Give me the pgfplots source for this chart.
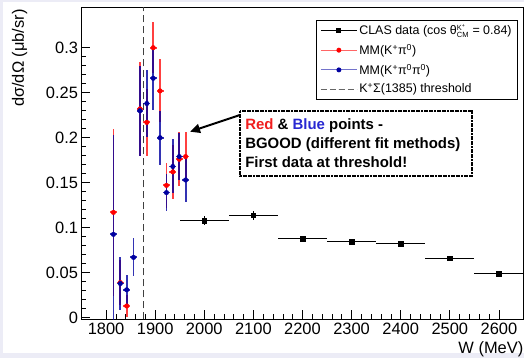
\documentclass[border=0pt]{standalone}
\usepackage{fontspec}
\setmainfont{Liberation Sans}
\usepackage{pgfplots}
\pgfplotsset{compat=1.18}
\usetikzlibrary{arrows.meta}
\definecolor{myred}{RGB}{255,0,0}
\definecolor{myblue}{RGB}{0,0,160}
\definecolor{bgl}{RGB}{236,236,246}
\definecolor{txtred}{RGB}{240,30,30}
\definecolor{txtblue}{RGB}{40,40,210}

\pgfplotstableread{
x y ex ey
1815 0.117 7 0.093
1829 0.039 7 0.025
1842 0.013 7 0.012
1869 0.232 7 0.052
1883 0.217 7 0.037
1896 0.300 7 0.028
1910 0.252 7 0.035
1923 0.147 7 0.025
1936 0.162 7 0.030
1949 0.176 7 0.030
1962 0.179 7 0.027
}\redtab

\pgfplotstableread{
x y ex ey
1815 0.0926 7 0.110
1829 0.038 7 0.029
1842 0.031 7 0.016
1856 0.067 7 0.021
1869 0.230 7 0.050
1883 0.238 7 0.037
1896 0.266 7 0.035
1910 0.200 7 0.030
1923 0.139 7 0.021
1936 0.168 7 0.030
1949 0.179 7 0.026
1962 0.153 7 0.024
}\bluetab

\pgfplotstableread{
x y ex ey
2000 0.108 50 0.005
2100 0.114 50 0.005
2200 0.088 50 0.003
2300 0.0845 50 0.003
2400 0.082 50 0.003
2500 0.066 50 0.003
2600 0.049 50 0.003
}\clastab

\begin{document}
\begin{tikzpicture}
\path[use as bounding box] (-81.5bp,-38.5bp) rectangle (442.5bp,319.5bp);
\fill[bgl] (-81.5bp,-38.5bp) rectangle (442.5bp,319.5bp);
\fill[white] (-78.5bp,-33.5bp) rectangle (442.5bp,317bp);
\begin{axis}[
  at={(0,0)}, anchor=south west, scale only axis,
  width=442bp, height=312.3bp,
  xmin=1750, xmax=2650, ymin=-0.002, ymax=0.345,
  xtick={1800,1900,...,2600},
  ytick={0,0.05,0.1,0.15,0.2,0.25,0.3},
  minor x tick num=4, minor y tick num=4,
  xtick pos=bottom, ytick pos=left, tick align=inside,
  major tick length=9bp, minor tick length=5bp,
  scaled y ticks=false, scaled x ticks=false,
  xticklabel style={/pgf/number format/1000 sep={}},
  yticklabel style={/pgf/number format/fixed, /pgf/number format/precision=2},
  /pgf/number format/assume math mode=true,
  tick label style={font=\fontsize{16.5}{18}\selectfont},
  axis line style={line width=1bp},
  every tick/.style={black, line width=0.7bp},
  xlabel={W (MeV)},
  ylabel={dσ/dΩ (μb/sr)},
  xlabel style={at={(rel axis cs:1,0)}, anchor=north east, yshift=-22bp, inner sep=0pt, font=\fontsize{16.5}{18}\selectfont},
  ylabel style={at={(rel axis cs:-0.14,0.994)}, anchor=east, inner sep=0pt, font=\fontsize{16.5}{18}\selectfont},
  legend style={at={(rel axis cs:0.9876,0.96)}, anchor=north east,
    font=\fontsize{12.5}{14}\selectfont, draw=black, line width=0.8bp,
    row sep=3.8bp, inner xsep=4bp, inner ysep=2.5bp, cells={anchor=west}},
  legend image code/.code={\draw[mark repeat=2,mark phase=2,#1] plot coordinates {(0bp,0bp) (18bp,0bp) (36bp,0bp)};},
  clip=true,
]
% threshold line
\addplot[black!75, line width=1bp, dash pattern=on 7bp off 4bp, forget plot] coordinates {(1876,-0.002) (1876,0.345)};

% CLAS
\addplot[black, mark=square*, mark size=2.3bp, only marks, forget plot,
  error bars/.cd, x dir=both, x explicit, y dir=both, y explicit,
  error mark=none, error bar style={line width=1bp, black}]
  table[x=x, y=y, x error=ex, y error=ey] {\clastab};

% red
\addplot[myred, mark=*, mark size=2.3bp, only marks, forget plot,
  error bars/.cd, x dir=both, x explicit, y dir=both, y explicit,
  error mark=none, error bar style={line width=1.8bp, myred, opacity=0.75}]
  table[x=x, y=y, x error=ex, y error=ey] {\redtab};

% blue
\addplot[myblue, mark=*, mark size=2.3bp, only marks, forget plot,
  error bars/.cd, x dir=both, x explicit, y dir=both, y explicit,
  error mark=none, error bar style={line width=1.8bp, myblue, opacity=0.8}]
  table[x=x, y=y, x error=ex, y error=ey] {\bluetab};

\addlegendimage{black, line width=0.8bp, mark=square*, mark size=2bp}
\addlegendentry{CLAS data (cos θ$^{\mbox{\fontsize{7.5}{7.5}\selectfont K\textsuperscript{+}}}_{\mbox{\fontsize{7.5}{7.5}\selectfont CM}}$ = 0.84)}
\addlegendimage{red!60, line width=0.9bp, mark=*, mark size=2bp, mark options={fill=myred, draw=myred}}
\addlegendentry{MM(K\textsuperscript{+}π\textsuperscript{0})}
\addlegendimage{myblue!55, line width=0.9bp, mark=*, mark size=2bp, mark options={fill=myblue, draw=myblue}}
\addlegendentry{MM(K\textsuperscript{+}π\textsuperscript{0}π\textsuperscript{0})}
\addlegendimage{black!60, line width=0.9bp, dash pattern=on 6bp off 3bp}
\addlegendentry{K\textsuperscript{+}Σ(1385) threshold}

% annotation
\draw[line width=1.6bp, dash pattern=on 2bp off 0.6bp, fill=white] (axis cs:2073,0.2297) rectangle (axis cs:2545,0.1574);
\node[anchor=north west, align=left, inner sep=0pt, font=\bfseries\fontsize{15}{19}\selectfont]
  at ([xshift=5bp, yshift=-8bp]axis cs:2073,0.2297)
  {{\color{txtred}Red} \& {\color{txtblue}Blue} points -\\BGOOD (different fit methods)\\First data at threshold!};
\draw[line width=2bp, -{Triangle[length=10bp, width=9bp]}] (axis cs:2073,0.2253) -- (axis cs:1971,0.2067);
\end{axis}
\end{tikzpicture}
\end{document}
